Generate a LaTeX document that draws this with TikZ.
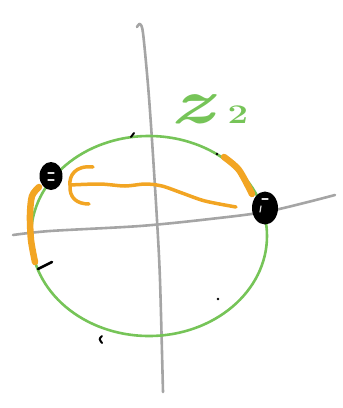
\documentclass[tikz,border=0pt]{standalone}
\usepackage{fontspec}
\usetikzlibrary{shapes.geometric}
\definecolor{cgreen}{RGB}{118,196,88}
\definecolor{corange}{RGB}{242,165,35}
\definecolor{cgray}{RGB}{165,165,165}
\begin{document}
\begin{tikzpicture}[x=1pt,y=-1pt,
  axis/.style={cgray,line width=2.6pt,line cap=round,line join=round},
  ring/.style={cgreen,line width=2.6pt},
  hilite/.style={corange,line width=6.5pt,line cap=round,line join=round},
  stroke/.style={corange,line width=3.5pt,line cap=round,line join=round},
  tickmark/.style={black,line width=2pt,line cap=round},
  pointdot/.style={ellipse,fill=black,inner sep=0pt},
  innermark/.style={white!75!gray,line width=1.2pt,line cap=round}]
\useasboundingbox (0,0) rectangle (343,408);
% axes
\draw[axis] plot[smooth] coordinates {(13,235) (50,231) (140,226) (210,219) (270,211) (335,195)};
\draw[axis] plot[smooth] coordinates {(137,27) (140,24) (143,33) (148,85) (152,140) (157,220) (160,280) (163,392)};
% circle
\draw[ring] (149,236) ellipse [x radius=118pt, y radius=100pt];
% orange highlights along circle
\draw[hilite] plot[smooth] coordinates {(224,157) (239,170) (252,194)};
\draw[hilite] plot[smooth] coordinates {(39,187) (32,196) (30,215) (31,240) (35,262)};
% orange arrow
\coordinate (arrtip) at (70,185);
\coordinate (arrtail) at (236,207);
\draw[stroke] plot[smooth] coordinates {(arrtip) (100,184) (125,186) (145,184) (162,186) (182,193) (205,201) (arrtail)};
\draw[stroke] (93,167) .. controls (75,165) and (69,176) .. (arrtip) .. controls (69,198) and (77,204) .. (89,204);
% points
\node[pointdot,minimum width=23pt,minimum height=28pt] (pleft) at (51,176) {};
\node[pointdot,minimum width=26pt,minimum height=33pt] (pright) at (265,208) {};
\draw[innermark] ([xshift=-3pt,yshift=3pt]pleft.center) -- ([xshift=3pt,yshift=3pt]pleft.center);
\draw[innermark] ([xshift=-3pt,yshift=-4pt]pleft.center) -- ([xshift=3pt,yshift=-4pt]pleft.center);
\draw[innermark] ([xshift=-3pt,yshift=9pt]pright.center) -- ([xshift=3pt,yshift=9pt]pright.center);
\draw[innermark] ([xshift=-5pt,yshift=-4pt]pright.center) -- ([xshift=-4pt,yshift=2pt]pright.center);
% small marks on circle
\draw[tickmark] (131,137) -- (134,133);
\fill (217,154) circle (1.3pt);
\fill (218,299) circle (1.3pt);
\draw[tickmark] (102,336) .. controls (99,339) .. (102,343);
\draw[tickmark,line width=2.5pt] (38,269) -- (52,262);
% label
\node[text=cgreen,anchor=base west,inner sep=0pt,xscale=1.35] (lbl) at (170,123)
  {\fontsize{64}{64}\selectfont\bfseries\itshape z\hspace{11pt}\fontsize{27}{27}\selectfont\upshape 2};
\end{tikzpicture}
\end{document}
